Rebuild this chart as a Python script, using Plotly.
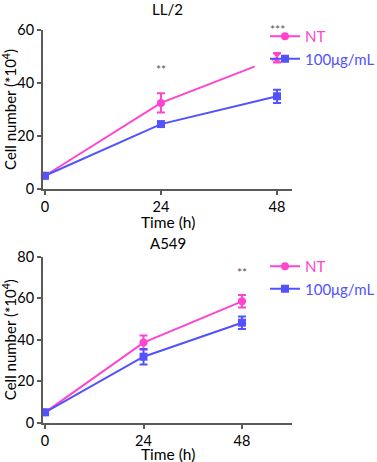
import plotly.graph_objects as go

time_h = [0, 24, 48]
x_ticks = [0, 24, 48]

# LL/2
ll2_nt = [5, 32.5, 49.5]
ll2_nt_err = [0.6, 3.6, 1.8]
ll2_100 = [5, 24.5, 35]
ll2_100_err = [0.6, 0.7, 2.5]
ll2_yticks = [0, 20, 40, 60]

# A549
a549_nt = [5, 38.6, 58.5]
a549_nt_err = [0.6, 3.4, 3.0]
a549_100 = [5, 31.8, 48.2]
a549_100_err = [0.6, 3.7, 3.0]
a549_yticks = [0, 20, 40, 60, 80]

series_names = ["NT", "100μg/mL"]
PINK = "#FF45D0"
BLUE = "#5252FF"
AX = "#5a5a5a"
FONT = "Lato"
W, H = 377, 462

def px(v):
    return v / W

def py(v):
    return 1 - v / H

fig = go.Figure()

def colored(name, color):
    return f"<span style='color:{color}'>{name}</span>"

def add_pair(nt, nt_err, tr, tr_err, xa, ya, legend, nt_symbols):
    fig.add_trace(go.Scatter(
        x=time_h, y=nt, name=colored(series_names[0], PINK), mode="lines+markers",
        line=dict(color=PINK, width=2),
        marker=dict(color=PINK, size=8, symbol=nt_symbols),
        error_y=dict(type="data", array=nt_err, color=PINK, thickness=2, width=4),
        xaxis=xa, yaxis=ya, legend=legend, cliponaxis=False))
    fig.add_trace(go.Scatter(
        x=time_h, y=tr, name=colored(series_names[1], BLUE), mode="lines+markers",
        line=dict(color=BLUE, width=2),
        marker=dict(color=BLUE, size=8, symbol="square"),
        error_y=dict(type="data", array=tr_err, color=BLUE, thickness=2, width=4),
        xaxis=xa, yaxis=ya, legend=legend, cliponaxis=False))

add_pair(ll2_nt, ll2_nt_err, ll2_100, ll2_100_err, "x", "y", "legend",
         ["circle", "circle", "hourglass"])
add_pair(a549_nt, a549_nt_err, a549_100, a549_100_err, "x2", "y2", "legend2",
         "circle")

xdom = [px(43), px(292)]
axis_common = dict(showline=True, linecolor=AX, linewidth=2, ticks="outside",
                   ticklen=4, tickwidth=2, tickcolor=AX, showgrid=False,
                   zeroline=False, automargin=False,
                   tickfont=dict(family=FONT, size=14.5, color="#000"),
                   title_font=dict(family=FONT, size=15, color="#000"))

ytitle = "Cell number (*10<sup>4</sup>)"

fig.update_layout(
    width=W, height=H,
    margin=dict(l=0, r=0, t=0, b=0, autoexpand=False),
    paper_bgcolor="white", plot_bgcolor="white",
    font=dict(family=FONT, color="#000"),
    xaxis=dict(domain=xdom, range=[-0.4, 51.1], tickvals=x_ticks, anchor="y",
               **axis_common),
    yaxis=dict(domain=[py(189), py(30)], range=[0, 60],
               tickvals=ll2_yticks, anchor="x",
               title=dict(text=ytitle, standoff=2), **axis_common),
    xaxis2=dict(domain=xdom, range=[-0.5, 60.2], tickvals=x_ticks, anchor="y2",
                **axis_common),
    yaxis2=dict(domain=[py(422.7), py(256.7)], range=[0, 80],
                tickvals=a549_yticks, anchor="x2",
                title=dict(text=ytitle, standoff=2), **axis_common),
    legend=dict(x=px(265), y=py(20), xanchor="left", yanchor="top",
                bgcolor="rgba(0,0,0,0)", font=dict(family=FONT, size=15),
                tracegroupgap=0, itemwidth=30),
    legend2=dict(x=px(265), y=py(250), xanchor="left", yanchor="top",
                 bgcolor="rgba(0,0,0,0)", font=dict(family=FONT, size=15),
                 tracegroupgap=0, itemwidth=30),
    showlegend=True,
)

title_font = dict(family=FONT, size=15, color="#000")
star_font = dict(family=FONT, size=12, color="#555")
xt_font = dict(family=FONT, size=15.5, color="#000")
fig.update_layout(
    annotations=[
        dict(text="LL/2", xref="paper", yref="paper", x=sum(xdom) / 2, y=py(9),
             yanchor="middle", showarrow=False, font=title_font),
        dict(text="Time (h)", xref="paper", yref="paper", x=sum(xdom) / 2, y=py(222),
             yanchor="middle", showarrow=False, font=xt_font),
        dict(text="A549", xref="paper", yref="paper", x=sum(xdom) / 2, y=py(243),
             yanchor="middle", showarrow=False, font=title_font),
        dict(text="Time (h)", xref="paper", yref="paper", x=sum(xdom) / 2, y=py(454),
             yanchor="middle", showarrow=False, font=xt_font),
        dict(text="**", xref="x", yref="y", x=time_h[1], y=45, showarrow=False,
             font=star_font),
        dict(text="***", xref="x", yref="y", x=time_h[2], y=60, yshift=1,
             showarrow=False, font=star_font),
        dict(text="**", xref="x2", yref="y2", x=time_h[2], y=72.5, showarrow=False,
             font=star_font),
    ],
    shapes=[
        dict(type="rect", xref="x", yref="y", x0=time_h[2] - 4.6, x1=time_h[2] - 1.1,
             y0=44, y1=50, fillcolor="white", line=dict(width=0), layer="above"),
    ],
)

fig.write_html("out.html", config={"displayModeBar": False},
               post_script="document.body.style.margin='0px';")
